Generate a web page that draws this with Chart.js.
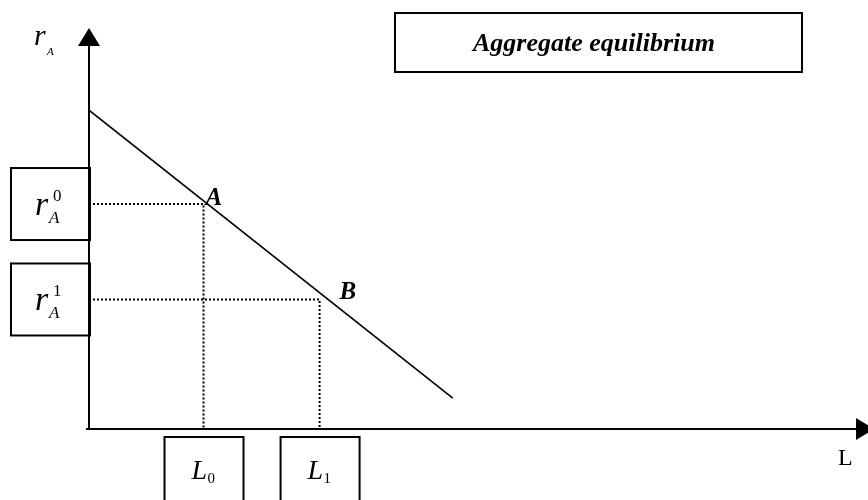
<!DOCTYPE html>
<html lang="en">
<head>
<meta charset="UTF-8" />
<title>Aggregate equilibrium</title>
<style>
    body { margin: 0; padding: 0; background: #fff; }
    canvas { display: block; }
</style>
<script src="https://cdn.jsdelivr.net/npm/chart.js"></script>
</head>
<body>
<canvas id="chart" width="868" height="500"></canvas>
<script>
    // demand line (L, r_A)
    const lineL = [0, 46.7];
    const lineR = [79.5, 7.7];

    // equilibrium points
    const pointNames = ['A', 'B'];
    const pointL = [14.7, 29.6];
    const pointR = [56.1, 32.3];

    // tick labels on the axes (base letter + index)
    const xTickBase = ['L', 'L'];
    const xTickSub = ['0', '1'];
    const yTickBase = ['r', 'r'];
    const yTickSub = ['A', 'A'];
    const yTickSup = ['0', '1'];

    const title = 'Aggregate equilibrium';
    const xAxisLabel = 'L';
    const yAxisBase = 'r';
    const yAxisSub = 'A';

    const serif = '"Liberation Serif", "Times New Roman", serif';

    function guide(i) {
        return [
            { x: 0, y: pointR[i] },
            { x: pointL[i], y: pointR[i] },
            { x: pointL[i], y: 0 }
        ];
    }

    function box(ctx, x, y, w, h) {
        ctx.lineWidth = 2;
        ctx.strokeStyle = '#000';
        ctx.strokeRect(x, y, w, h);
    }

    // axes, arrows, boxed tick labels and texts
    const decor = {
        id: 'decor',
        afterDatasetsDraw(chart) {
            const ctx = chart.ctx;
            const xs = chart.scales.x, ys = chart.scales.y;
            const x0 = xs.getPixelForValue(0), y0 = ys.getPixelForValue(0);
            const top = ys.getPixelForValue(ys.max);
            const right = xs.getPixelForValue(xs.max);
            ctx.save();
            ctx.fillStyle = '#000';
            ctx.strokeStyle = '#000';

            // axes
            ctx.lineWidth = 2;
            ctx.beginPath();
            ctx.moveTo(x0, y0);
            ctx.lineTo(x0, top + 18);
            ctx.moveTo(x0 - 3, y0);
            ctx.lineTo(right - 12, y0);
            ctx.stroke();
            ctx.beginPath();
            ctx.moveTo(x0, top);
            ctx.lineTo(x0 - 11, top + 18);
            ctx.lineTo(x0 + 11, top + 18);
            ctx.closePath();
            ctx.fill();
            ctx.beginPath();
            ctx.moveTo(right + 6, y0);
            ctx.lineTo(right - 12, y0 - 11);
            ctx.lineTo(right - 12, y0 + 11);
            ctx.closePath();
            ctx.fill();

            ctx.textBaseline = 'alphabetic';
            ctx.textAlign = 'left';

            // y tick boxes
            for (let i = 0; i < pointR.length; i++) {
                const cy = ys.getPixelForValue(pointR[i]);
                box(ctx, 11, cy - 36, 79, 72);
                const left = 35, base = cy + 11;
                ctx.font = 'italic 34px ' + serif;
                ctx.fillText(yTickBase[i], left, base);
                ctx.font = 'italic 17px ' + serif;
                ctx.fillText(yTickSub[i], left + 14, base + 8);
                ctx.font = '17px ' + serif;
                ctx.fillText(yTickSup[i], left + 18, base - 14);
            }

            // x tick boxes
            for (let i = 0; i < pointL.length; i++) {
                const cx = xs.getPixelForValue(pointL[i]);
                box(ctx, cx - 39, y0 + 8, 79, 80);
                const left = cx - 12, base = y0 + 50;
                ctx.font = 'italic 28px ' + serif;
                ctx.fillText(xTickBase[i], left, base);
                ctx.font = '15px ' + serif;
                ctx.fillText(xTickSub[i], left + 16, base + 4);
            }

            // point labels
            ctx.font = 'italic bold 25px ' + serif;
            const offs = [[2, 1], [20, 0]];
            for (let i = 0; i < pointNames.length; i++) {
                ctx.fillText(pointNames[i],
                    xs.getPixelForValue(pointL[i]) + offs[i][0],
                    ys.getPixelForValue(pointR[i]) + offs[i][1]);
            }

            // axis labels
            ctx.font = 'italic 30px ' + serif;
            ctx.fillText(yAxisBase, 34, 45);
            ctx.font = 'italic 11px ' + serif;
            ctx.fillText(yAxisSub, 47, 55);
            ctx.font = '24px ' + serif;
            ctx.fillText(xAxisLabel, 838, 465);

            // title box
            box(ctx, 395, 13, 407, 59);
            ctx.font = 'italic bold 26px ' + serif;
            ctx.textAlign = 'center';
            ctx.fillText(title, 594, 51);
            ctx.restore();
        }
    };

    new Chart(document.getElementById('chart').getContext('2d'), {
        type: 'scatter',
        data: {
            datasets: [
                {
                    data: lineL.map((l, i) => ({ x: l, y: lineR[i] })),
                    showLine: true,
                    borderColor: '#000',
                    borderWidth: 1.6,
                    pointRadius: 0
                },
                {
                    data: guide(0),
                    showLine: true,
                    borderColor: '#000',
                    borderWidth: 2,
                    borderDash: [2, 2],
                    pointRadius: 0
                },
                {
                    data: guide(1),
                    showLine: true,
                    borderColor: '#000',
                    borderWidth: 2,
                    borderDash: [2, 2],
                    pointRadius: 0
                }
            ]
        },
        options: {
            responsive: false,
            animation: false,
            layout: { padding: { left: 89, top: 28, right: 0, bottom: 71 } },
            scales: {
                x: { type: 'linear', min: 0, max: 100, display: false },
                y: { type: 'linear', min: 0, max: 100, display: false }
            },
            plugins: {
                legend: { display: false },
                tooltip: { enabled: false }
            }
        },
        plugins: [decor]
    });
</script>
</body>
</html>
